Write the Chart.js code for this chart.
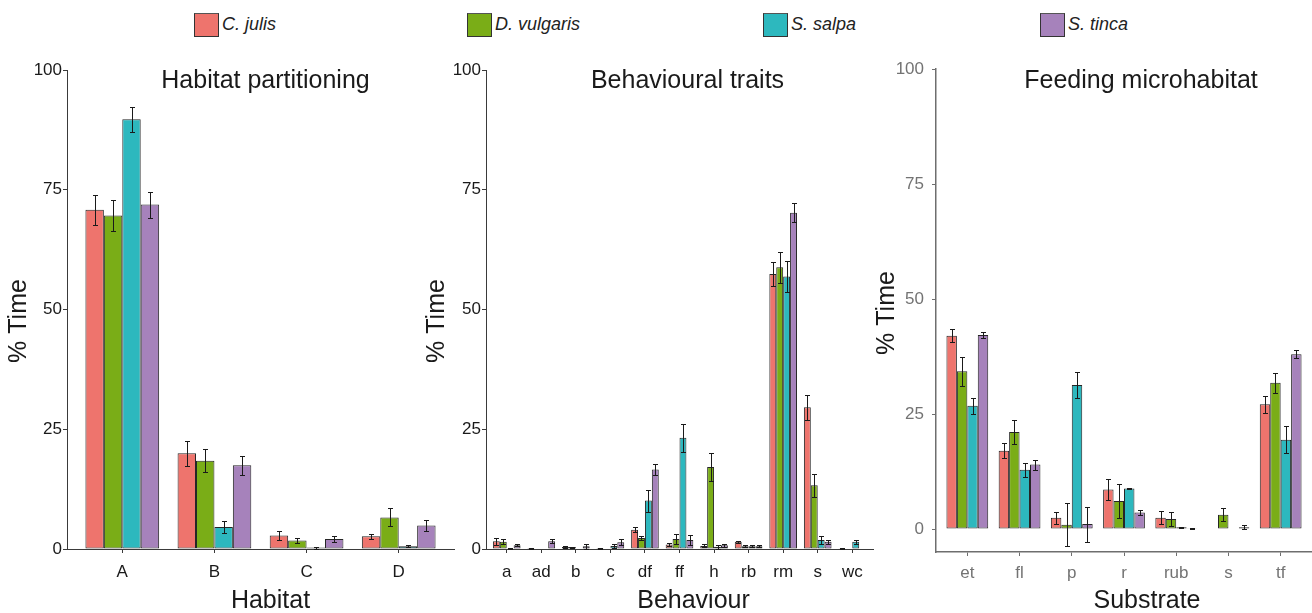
<!DOCTYPE html>
<html>
<head>
<meta charset="utf-8">
<script src="https://cdn.jsdelivr.net/npm/chart.js@4.4.1/dist/chart.umd.min.js"></script>
<style>
  body { margin: 0; width: 1312px; height: 613px; overflow: hidden; background: #fff;
         font-family: "Liberation Sans", Arial, sans-serif; }
  canvas { position: absolute; }
  .leg { position: absolute; top: 12px; height: 25px; display: flex; align-items: center; }
  .sw { width: 23px; height: 22px; border: 1px solid #333; border-top-color: #555; margin-right: 3px; box-sizing: content-box; }
  .leg i { font-size: 18px; color: #222; }
</style>
</head>
<body>
<div id="legend"></div>
<canvas id="hab" width="456" height="563" style="left:0px;top:50px"></canvas>
<canvas id="beh" width="454" height="563" style="left:420px;top:50px"></canvas>
<canvas id="sub" width="452" height="563" style="left:860px;top:50px"></canvas>
<script>
const species = ['C. julis', 'D. vulgaris', 'S. salpa', 'S. tinca']
const colors = ['#EE746D', '#7AAD17', '#2DB8BE', '#A682BB']
const yTicks = [0, 25, 50, 75, 100]

// Habitat partitioning (rows = species)
const habitats = ['A', 'B', 'C', 'D']
const habMean = [
    [70.8, 20.0, 2.8, 2.65],
    [69.6, 18.4, 1.8, 6.6],
    [89.7, 4.6, 0.3, 0.6],
    [71.9, 17.5, 2.1, 4.9]
]
const habErr = [
    [3.2, 2.6, 1.0, 0.5],
    [3.3, 2.4, 0.6, 1.9],
    [2.6, 1.25, 0.2, 0.2],
    [2.7, 2.0, 0.7, 1.2]
]

// Behavioural traits
const behaviours = ['a', 'ad', 'b', 'c', 'df', 'ff', 'h', 'rb', 'rm', 's', 'wc']
const behMean = [
    [1.6, 0.2, 0.4, 0.2, 4.0, 0.95, 0.65, 1.5, 57.4, 29.6, 0.15],
    [1.5, 0, 0.4, 0, 2.3, 2.1, 17.1, 0.6, 58.8, 13.3, 0],
    [0.15, 0, 0, 0.65, 10.1, 23.2, 0.45, 0.6, 56.9, 1.9, 1.5],
    [0.8, 1.6, 0.6, 1.4, 16.6, 1.9, 0.8, 0.6, 70.2, 1.5, 0]
]
const behErr = [
    [0.7, 0.1, 0.2, 0.1, 0.5, 0.4, 0.3, 0.2, 2.5, 2.6, 0.05],
    [0.5, 0, 0.1, 0, 0.5, 1.1, 2.9, 0.2, 3.3, 2.4, 0],
    [0.05, 0, 0, 0.4, 2.3, 2.9, 0.4, 0.2, 3.2, 0.8, 0.4],
    [0.2, 0.4, 0.5, 0.6, 1.1, 1.0, 0.3, 0.2, 2.0, 0.4, 0]
]

// Feeding microhabitat
const substrates = ['et', 'fl', 'p', 'r', 'rub', 's', 'tf']
const subMean = [
    [42.0, 17.0, 2.45, 8.6, 2.45, 0, 27.1],
    [34.3, 21.1, 0.9, 6.1, 2.2, 3.1, 31.8],
    [26.8, 12.9, 31.3, 8.8, 0.4, 0, 19.4],
    [42.2, 14.0, 1.07, 3.6, 0.15, 0.4, 38.0]
]
const subErr = [
    [1.4, 1.6, 1.3, 2.2, 1.45, 0, 1.8],
    [3.2, 2.6, 4.7, 3.7, 1.6, 1.45, 2.2],
    [1.7, 1.5, 2.9, 0.2, 0.1, 0, 2.9],
    [0.65, 1.1, 3.8, 0.5, 0.05, 0.4, 0.9]
]


/* ------------------------------------ legend ------------------------------------ */
const legendX = [194, 467, 763, 1040]
species.forEach((s, i) => {
    const d = document.createElement('div')
    d.className = 'leg'
    d.style.left = legendX[i] + 'px'
    d.innerHTML = `<span class="sw" style="background:${colors[i]}"></span><i>${s}</i>`
    document.getElementById('legend').appendChild(d)
})


/* ------------------------------------ plugins ------------------------------------ */
const errorBars = {
    id: 'errorBars',
    afterDatasetsDraw(chart) {
        const ctx = chart.ctx
        const y = chart.scales.y
        ctx.save()
        ctx.strokeStyle = '#1a1a1a'
        ctx.lineWidth = 1
        chart.data.datasets.forEach((ds, i) => {
            chart.getDatasetMeta(i).data.forEach((bar, j) => {
                const e = ds.err[j]
                const v = ds.data[j].y
                if (!e) return
                const x = Math.round(bar.x) + 0.5
                const top = Math.round(y.getPixelForValue(v + e)) + 0.5
                const bot = Math.round(y.getPixelForValue(v - e)) + 0.5
                ctx.beginPath()
                ctx.moveTo(x, top); ctx.lineTo(x, bot)
                ctx.moveTo(x - 2.5, top); ctx.lineTo(x + 2.5, top)
                ctx.moveTo(x - 2.5, bot); ctx.lineTo(x + 2.5, bot)
                ctx.stroke()
            })
        })
        ctx.restore()
    }
}

const panelText = {
    id: 'panelText',
    afterDraw(chart, args, o) {
        const ctx = chart.ctx
        const a = chart.chartArea
        const cx = (a.left + a.right) / 2
        ctx.save()
        ctx.fillStyle = '#1a1a1a'
        ctx.textAlign = 'center'
        ctx.textBaseline = 'middle'
        ctx.font = '25px "Liberation Sans", Arial, sans-serif'
        ctx.fillText(o.title, cx + o.titleDx, o.titleY)
        ctx.fillText(o.xTitle, cx + o.xDx, o.xY)
        ctx.translate(o.yX, o.yY)
        ctx.rotate(-Math.PI / 2)
        ctx.fillText(o.yTitle, 0, 0)
        ctx.restore()
    }
}


/* ------------------------------------ charts ------------------------------------ */
const crearPanel = (id, labels, means, errs, o) => {
    const ctx = document.getElementById(id).getContext('2d')
    new Chart(ctx, {
        type: 'bar',
        data: {
            datasets: species.map((s, i) => ({
                label: s,
                data: means[i].map((v, j) => ({ x: j, y: v })),
                err: errs[i],
                backgroundColor: colors[i],
                borderColor: '#262626',
                borderWidth: 1,
                borderSkipped: false,
                categoryPercentage: 0.8,
                barPercentage: 1
            }))
        },
        options: {
            responsive: false,
            animation: false,
            devicePixelRatio: 1,
            layout: { padding: { top: o.padTop, right: o.padRight, left: 0, bottom: 0 } },
            plugins: {
                legend: { display: false },
                tooltip: { enabled: false },
                panelText: o.text
            },
            scales: {
                x: {
                    type: 'linear',
                    offset: false,
                    min: -0.6,
                    max: labels.length - 0.4,
                    afterBuildTicks: s => { s.ticks = labels.map((l, j) => ({ value: j })) },
                    afterFit: s => { s.height = o.xh },
                    ticks: { font: { size: 17, family: '"Liberation Sans", Arial' }, color: o.tickColor,
                             padding: o.xPad, maxRotation: 0, autoSkip: false,
                             callback: v => labels[v] },
                    grid: { offset: false, drawOnChartArea: false, tickLength: 4, color: o.axisColor },
                    border: { display: true, color: o.axisColor, width: o.axisWidth }
                },
                y: {
                    min: o.ymin,
                    max: 100,
                    afterBuildTicks: s => { s.ticks = yTicks.map(v => ({ value: v })) },
                    afterFit: s => { s.width = o.yw },
                    ticks: { font: { size: 17, family: '"Liberation Sans", Arial' }, color: o.tickColor, padding: o.yPad },
                    grid: { drawOnChartArea: false, tickLength: 4, color: o.axisColor },
                    border: { display: true, color: o.axisColor, width: o.axisWidth }
                }
            }
        },
        plugins: [errorBars, panelText]
    })
}

crearPanel('hab', habitats, habMean, habErr, {
    padTop: 20, padRight: 2, xh: 64, yw: 67, ymin: 0, xPad: 9, yPad: 1,
    tickColor: '#1a1a1a', axisColor: '#3a3a3a', axisWidth: 1,
    text: { title: 'Habitat partitioning', titleDx: 5, titleY: 31,
            xTitle: 'Habitat', xDx: 10, xY: 551,
            yTitle: '% Time', yX: 19, yY: 271 }
})

crearPanel('beh', behaviours, behMean, behErr, {
    padTop: 20, padRight: 1, xh: 64, yw: 66, ymin: 0, xPad: 9, yPad: 1,
    tickColor: '#1a1a1a', axisColor: '#3a3a3a', axisWidth: 1,
    text: { title: 'Behavioural traits', titleDx: 8, titleY: 31,
            xTitle: 'Behaviour', xDx: 14, xY: 551,
            yTitle: '% Time', yX: 17, yY: 271 }
})

crearPanel('sub', substrates, subMean, subErr, {
    padTop: 19, padRight: 0, xh: 61, yw: 76, ymin: -5, xPad: 7, yPad: 8,
    tickColor: '#737373', axisColor: '#6e6e6e', axisWidth: 1.5,
    text: { title: 'Feeding microhabitat', titleDx: 17, titleY: 31,
            xTitle: 'Substrate', xDx: 23, xY: 551,
            yTitle: '% Time', yX: 27, yY: 263 }
})
</script>
</body>
</html>
